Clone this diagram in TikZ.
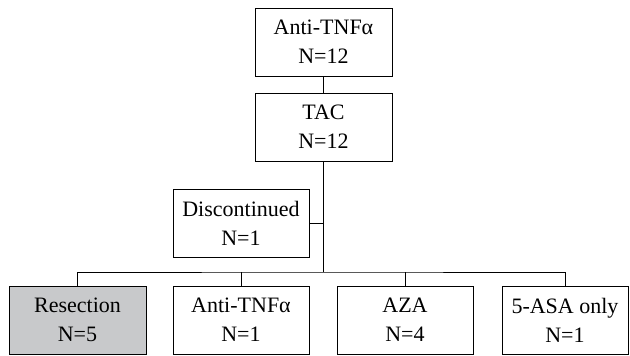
\documentclass[tikz,border=0pt]{standalone}
\usepackage{fontspec}
\setmainfont{Liberation Serif}
\definecolor{boxgray}{RGB}{200,201,203}
\begin{document}
\begin{tikzpicture}[x=1pt,y=-1pt,
  box/.style={draw, line width=1pt, inner sep=0pt, minimum width=137pt, minimum height=68pt,
    align=center, font=\fontsize{22}{29}\selectfont},
  link/.style={line width=0.9pt}]
\useasboundingbox (0,0) rectangle (630,356);
\node[box] (top) at (323.5,42) {Anti-TNFα\\N=12};
\node[box] (tac) at (323.5,127) {TAC\\N=12};
\node[box, minimum width=136pt] (disc) at (241,223) {Discontinued\\N=1};
\node[box, fill=boxgray] (res) at (77.5,320) {Resection\\N=5};
\node[box, minimum width=136pt] (anti) at (241,320) {Anti-TNFα\\N=1};
\node[box, minimum width=136pt] (aza) at (405,320) {AZA\\N=4};
\node[box, minimum width=126pt] (asa) at (565,320) {5-ASA only\\N=1};
\coordinate (j) at (323.5,272);
\draw[link] (top) -- (tac);
\draw[link] (tac.south) -- (j);
\draw[link] (disc.east) -- (disc.east -| j);
\draw[link] (res.north) |- (j) -| (asa.north);
\draw[link] (anti.north) -- (anti.north |- j);
\draw[link] (aza.north) -- (aza.north |- j);
\end{tikzpicture}
\end{document}
